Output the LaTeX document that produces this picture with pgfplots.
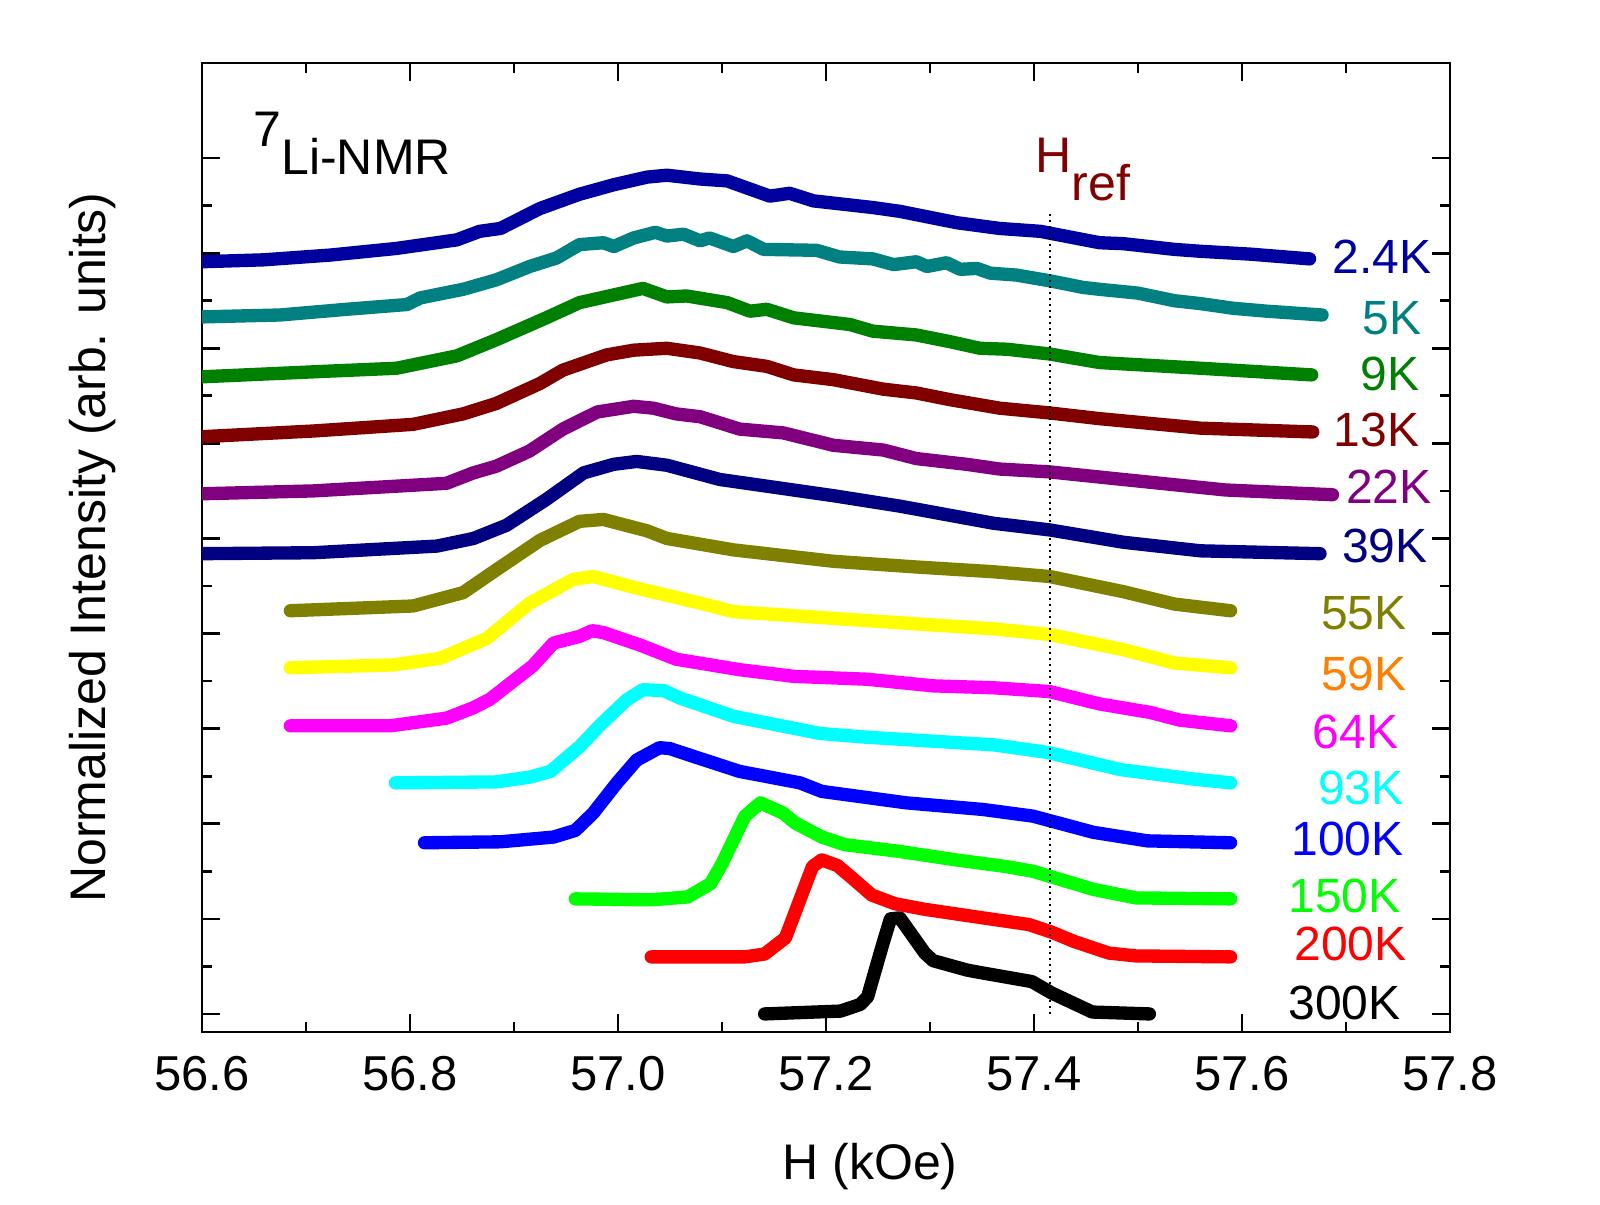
\documentclass[border=0pt]{standalone}
\usepackage{fontspec}
\setmainfont{Liberation Sans}
\usepackage{pgfplots}
\pgfplotsset{compat=1.18}

\definecolor{c300}{RGB}{0,0,0}
\definecolor{c200}{RGB}{255,0,0}
\definecolor{c150}{RGB}{0,255,0}
\definecolor{c100}{RGB}{0,0,255}
\definecolor{c93}{RGB}{0,255,255}
\definecolor{c64}{RGB}{255,0,255}
\definecolor{c59}{RGB}{255,255,0}
\definecolor{c59t}{RGB}{255,128,0}
\definecolor{c55}{RGB}{128,128,0}
\definecolor{c39}{RGB}{0,0,128}
\definecolor{c22}{RGB}{128,0,128}
\definecolor{c13}{RGB}{128,0,0}
\definecolor{c9}{RGB}{0,128,0}
\definecolor{c5}{RGB}{0,128,128}
\definecolor{c2}{RGB}{0,0,160}

\newcommand{\lbl}{\fontsize{14.4pt}{17pt}\selectfont}
\newcommand{\tlbl}{\fontsize{14.7pt}{17pt}\selectfont}
\newcommand{\albl}{\fontsize{15pt}{18pt}\selectfont}

\begin{document}
\begin{tikzpicture}
\begin{axis}[
  scale only axis,
  width=374.4pt, height=290.7pt,
  xmin=56.6, xmax=57.8, ymin=-0.19, ymax=10,
  xtick={56.6,56.8,57.0,57.2,57.4,57.6,57.8},
  minor x tick num=1,
  ytick={0,1,2,3,4,5,6,7,8,9},
  minor y tick num=1,
  yticklabels={},
  tick align=inside,
  tick pos=both,
  xticklabel pos=lower,
  major tick length=5.5pt,
  minor tick length=3pt,
  axis line style={line width=0.8pt},
  every tick/.style={black, line width=0.8pt},
  xticklabel style={font=\tlbl, anchor=base, yshift=-17.7pt,
    /pgf/number format/.cd, fixed, fixed zerofill, precision=1,
    assume math mode=true},
  every axis plot/.append style={line width=4pt, line cap=round, line join=round},
]
% 300 K
\addplot[c300] table {
57.141 0.00
57.214 0.03
57.233 0.10
57.240 0.18
57.255 0.75
57.262 1.00
57.271 1.01
57.295 0.64
57.303 0.56
57.336 0.46
57.351 0.43
57.398 0.34
57.417 0.22
57.456 0.02
57.511 0.00
};
% 200 K
\addplot[c200] table {
57.032 0.60
57.122 0.60
57.141 0.63
57.161 0.80
57.187 1.55
57.196 1.62
57.211 1.56
57.224 1.44
57.244 1.25
57.266 1.16
57.295 1.10
57.351 1.01
57.395 0.94
57.417 0.86
57.439 0.76
57.472 0.64
57.498 0.61
57.589 0.60
};
% 150 K
\addplot[c150] table {
56.959 1.21
57.032 1.20
57.067 1.23
57.089 1.37
57.100 1.58
57.122 2.08
57.137 2.22
57.159 2.11
57.170 2.01
57.196 1.86
57.218 1.78
57.270 1.71
57.325 1.62
57.373 1.55
57.399 1.50
57.457 1.31
57.498 1.22
57.589 1.21
};
% 100 K
\addplot[c100] table {
56.814 1.80
56.887 1.81
56.938 1.86
56.959 1.93
56.976 2.11
56.999 2.43
57.018 2.67
57.040 2.80
57.050 2.79
57.072 2.71
57.117 2.55
57.175 2.43
57.196 2.34
57.277 2.22
57.351 2.15
57.399 2.08
57.457 1.91
57.509 1.82
57.589 1.80
};
% 93 K
\addplot[c93] table {
56.786 2.43
56.883 2.44
56.915 2.49
56.935 2.55
56.963 2.81
56.983 3.04
57.008 3.30
57.024 3.41
57.044 3.40
57.060 3.32
57.111 3.13
57.194 2.95
57.239 2.91
57.361 2.83
57.413 2.75
57.483 2.57
57.553 2.47
57.589 2.43
};
% 64 K
\addplot[c64] table {
56.685 3.03
56.781 3.03
56.835 3.11
56.861 3.22
56.877 3.31
56.918 3.66
56.938 3.90
56.963 3.97
56.975 4.03
56.986 4.01
57.021 3.88
57.056 3.73
57.117 3.62
57.169 3.55
57.239 3.52
57.303 3.45
57.361 3.43
57.415 3.39
57.463 3.26
57.512 3.17
57.540 3.09
57.589 3.03
};
% 59 K
\addplot[c59] table {
56.685 3.64
56.784 3.67
56.829 3.74
56.874 3.95
56.915 4.32
56.957 4.57
56.976 4.60
57.021 4.47
57.079 4.32
57.111 4.23
57.207 4.16
57.303 4.09
57.361 4.05
57.415 3.99
57.486 3.83
57.535 3.69
57.589 3.64
};
% 55 K
\addplot[c55] table {
56.685 4.24
56.803 4.29
56.851 4.43
56.883 4.67
56.925 4.98
56.963 5.18
56.986 5.20
57.028 5.08
57.047 5.00
57.111 4.88
57.207 4.76
57.287 4.70
57.361 4.65
57.415 4.60
57.486 4.44
57.535 4.31
57.589 4.24
};
% 39 K
\addplot[c39] table {
56.600 4.84
56.707 4.85
56.826 4.92
56.861 5.00
56.893 5.14
56.931 5.41
56.967 5.69
56.996 5.78
57.018 5.81
57.047 5.77
57.098 5.62
57.143 5.55
57.207 5.45
57.271 5.34
57.361 5.16
57.415 5.09
57.486 4.96
57.560 4.87
57.675 4.84
};
% 22 K
\addplot[c22] table {
56.600 5.47
56.707 5.50
56.835 5.58
56.861 5.69
56.883 5.76
56.915 5.92
56.947 6.15
56.980 6.33
57.015 6.39
57.034 6.37
57.056 6.31
57.079 6.28
57.117 6.15
57.159 6.11
57.207 5.98
57.255 5.93
57.287 5.84
57.335 5.78
57.367 5.73
57.415 5.70
57.486 5.62
57.584 5.51
57.687 5.46
};
% 13 K
\addplot[c13] table {
56.600 6.07
56.707 6.13
56.803 6.20
56.851 6.31
56.883 6.42
56.925 6.63
56.947 6.77
56.989 6.93
57.015 6.98
57.047 7.00
57.079 6.95
57.111 6.86
57.143 6.81
57.169 6.72
57.207 6.67
57.255 6.57
57.287 6.53
57.319 6.46
57.367 6.37
57.415 6.32
57.463 6.26
57.560 6.16
57.668 6.12
};
% 9 K
\addplot[c9] table {
56.600 6.70
56.723 6.76
56.787 6.79
56.845 6.92
56.883 7.09
56.931 7.32
56.963 7.48
57.024 7.63
57.047 7.54
57.066 7.55
57.105 7.48
57.127 7.39
57.143 7.41
57.169 7.32
57.223 7.25
57.245 7.18
57.287 7.14
57.319 7.07
57.348 7.00
57.374 6.99
57.415 6.94
57.463 6.85
57.560 6.79
57.667 6.72
};
% 5 K
\addplot[c5] table {
56.600 7.33
56.675 7.35
56.739 7.41
56.797 7.46
56.810 7.53
56.851 7.62
56.883 7.72
56.915 7.86
56.941 7.95
56.963 8.09
56.986 8.11
56.996 8.07
57.015 8.16
57.036 8.22
57.047 8.18
57.063 8.20
57.079 8.13
57.088 8.16
57.111 8.07
57.124 8.13
57.140 8.04
57.191 8.03
57.213 7.96
57.245 7.94
57.265 7.88
57.287 7.91
57.297 7.86
57.316 7.90
57.329 7.83
57.345 7.84
57.358 7.79
57.383 7.77
57.415 7.71
57.447 7.64
57.463 7.62
57.500 7.58
57.535 7.50
57.560 7.47
57.592 7.42
57.624 7.39
57.677 7.35
};
% 2.4 K
\addplot[c2] table {
56.600 7.91
56.659 7.93
56.723 7.98
56.787 8.05
56.845 8.14
56.867 8.23
56.887 8.26
56.925 8.47
56.963 8.62
56.996 8.72
57.028 8.80
57.047 8.82
57.079 8.78
57.105 8.76
57.146 8.60
57.165 8.63
57.188 8.55
57.245 8.48
57.271 8.44
57.326 8.32
57.367 8.26
57.406 8.23
57.463 8.11
57.486 8.10
57.535 8.04
57.560 8.02
57.608 7.99
57.665 7.94
};
% reference field
\addplot[black, line width=0.6pt, line cap=butt, dash pattern=on 0.6pt off 1.2pt] coordinates {(57.415,0) (57.415,8.45)};

% temperature labels
\begin{scope}[every node/.style={font=\lbl, inner sep=0pt, anchor=east}]
\node[text=c2]   at (57.783,7.96) {2.4K};
\node[text=c5]   at (57.773,7.32) {5K};
\node[text=c9]   at (57.771,6.73) {9K};
\node[text=c13]  at (57.771,6.14) {13K};
\node[text=c22]  at (57.783,5.54) {22K};
\node[text=c39]  at (57.779,4.92) {39K};
\node[text=c55]  at (57.759,4.21) {55K};
\node[text=c59t] at (57.759,3.58) {59K};
\node[text=c64]  at (57.751,2.97) {64K};
\node[text=c93]  at (57.756,2.38) {93K};
\node[text=c100] at (57.756,1.84) {100K};
\node[text=c150] at (57.753,1.24) {150K};
\node[text=c200] at (57.759,0.74) {200K};
\node[text=c300] at (57.753,0.12) {300K};
\end{scope}
\node[font=\albl, inner sep=0pt, anchor=base west] at (56.649,8.83) {\raisebox{8.4pt}{7}Li-NMR};
\node[font=\albl, inner sep=0pt, anchor=base west, text=c13] at (57.401,8.85) {H\raisebox{-8.4pt}{ref}};
\end{axis}
\node[font=\albl, rotate=90, anchor=base, inner sep=0pt] at ([xshift=-28.8pt]current axis.west) {Normalized Intensity (arb. units)};
\node[font=\albl, anchor=base, inner sep=0pt] at ([xshift=200.4pt, yshift=-44.4pt]current axis.south west) {H (kOe)};
\pgfresetboundingbox
\path[use as bounding box] ([xshift=-60.6pt, yshift=-51.9pt]current axis.south west) rectangle ([xshift=45pt, yshift=18.9pt]current axis.north east);
\end{tikzpicture}
\end{document}
